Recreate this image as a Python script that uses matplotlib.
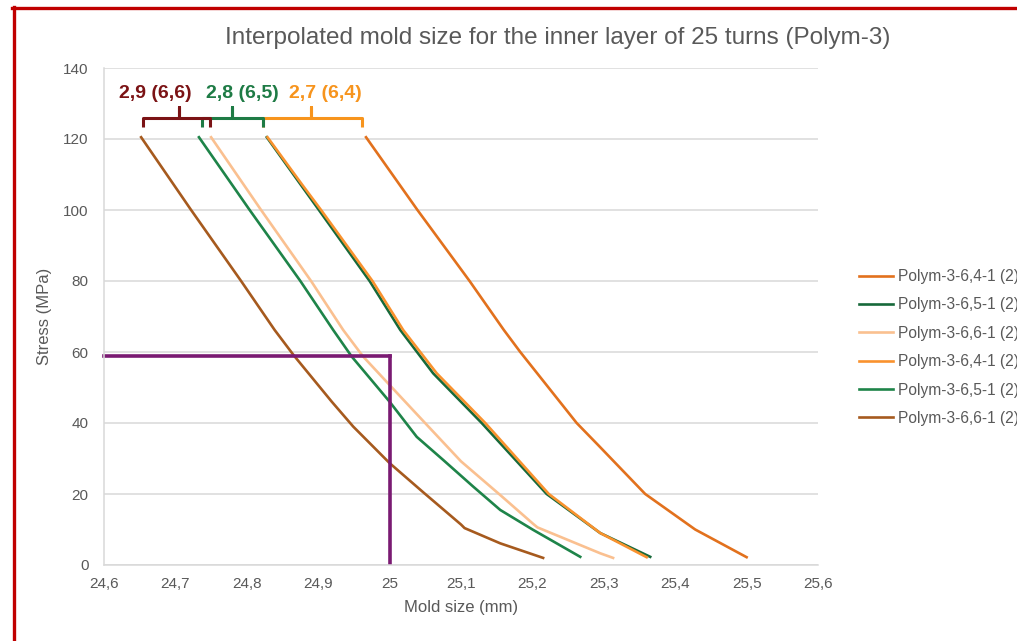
import matplotlib
matplotlib.use("Agg")
import matplotlib.pyplot as plt
from matplotlib.lines import Line2D

plt.rcParams['font.family'] = ['Liberation Sans', 'DejaVu Sans']

# ---------------- data ----------------
title = "Interpolated mold size for the inner layer of 25 turns (Polym-3)"
x_label = "Mold size (mm)"
y_label = "Stress (MPa)"
x_ticks = [24.6, 24.7, 24.8, 24.9, 25.0, 25.1, 25.2, 25.3, 25.4, 25.5, 25.6]
x_tick_labels = ["24,6", "24,7", "24,8", "24,9", "25", "25,1", "25,2", "25,3", "25,4", "25,5", "25,6"]
y_ticks = [0, 20, 40, 60, 80, 100, 120, 140]

series_names = ["Polym-3-6,4-1 (2)", "Polym-3-6,5-1 (2)", "Polym-3-6,6-1 (2)",
                "Polym-3-6,4-1 (2)", "Polym-3-6,5-1 (2)", "Polym-3-6,6-1 (2)"]

s64a_x = [24.967, 25.039, 25.112, 25.160, 25.183, 25.262, 25.292, 25.358, 25.428, 25.500]
s64a_y = [120.5, 100, 80, 66.2, 60, 40, 33.8, 20, 10, 2.2]

s65a_x = [24.828, 24.876, 24.901, 24.972, 25.015, 25.061, 25.129, 25.220, 25.295, 25.365]
s65a_y = [120.5, 107, 100, 80, 66.2, 54, 40, 20, 9, 2.3]

s66a_x = [24.750, 24.820, 24.890, 24.935, 24.963, 25.000, 25.052, 25.100, 25.155,
          25.201, 25.207, 25.295, 25.313]
s66a_y = [120.5, 100, 80, 66.2, 58.7, 50.7, 39.5, 29.2, 19.7, 11.6, 10.6, 3.3, 2.0]

s64b_x = [24.829, 24.878, 24.904, 24.976, 25.019, 25.066, 25.134, 25.223, 25.295, 25.360]
s64b_y = [120.5, 107, 100, 80, 66.2, 54, 40, 20, 9, 2.2]

s65b_x = [24.733, 24.804, 24.875, 24.921, 24.947, 25.000, 25.038, 25.075, 25.117,
          25.155, 25.201, 25.267]
s65b_y = [120.5, 100, 80, 66.2, 58.7, 46, 36.1, 29.6, 22.1, 15.5, 9.9, 2.3]

s66b_x = [24.652, 24.722, 24.792, 24.839, 24.866, 24.919, 24.949, 25.000, 25.047,
          25.100, 25.105, 25.155, 25.215]
s66b_y = [120.5, 100, 80, 66.2, 59, 46, 39, 28.7, 20.5, 11.4, 10.4, 6.1, 2.0]

target_size = 25.0
target_stress = 59.0

bracket_labels = ["2,9 (6,6)", "2,8 (6,5)", "2,7 (6,4)"]
bracket_left = [24.6546, 24.7368, 24.8222]
bracket_right = [24.7485, 24.8222, 24.9609]
bracket_mid = [24.705, 24.7797, 24.8895]
label_x = [24.6714, 24.7933, 24.9095]

# ---------------- styles ----------------
series_colors = ["#E2711D", "#17693A", "#FAC090", "#F9922E", "#1E8449", "#A65A1E"]
bracket_colors = ["#7B1315", "#1E7B45", "#F7941D"]
gray = "#595959"
grid = "#D9D9D9"

fig = plt.figure(figsize=(10.17, 6.41), dpi=100)
ax = fig.add_axes([104/1017, 1-565/641, (818-104)/1017, (565-68)/641])

xs = [s64a_x, s65a_x, s66a_x, s64b_x, s65b_x, s66b_x]
ys = [s64a_y, s65a_y, s66a_y, s64b_y, s65b_y, s66b_y]
for x, y, c, n in zip(xs, ys, series_colors, series_names):
    ax.plot(x, y, color=c, lw=1.9, label=n, solid_joinstyle='round')

# target lines
ax.plot([24.6, target_size], [target_stress, target_stress], color="#7A1A72", lw=2.6, clip_on=False)
ax.plot([target_size, target_size], [0, target_stress], color="#7A1A72", lw=2.6)

# brackets
yl, yb, yt = 126.0, 123.4, 129.0
for i in [2, 1, 0]:
    x0, x1, xm = bracket_left[i], bracket_right[i], bracket_mid[i]
    ax.plot([x0, x0, xm, xm, xm, x1, x1], [yb, yl, yl, yt, yl, yl, yb],
            color=bracket_colors[i], lw=2.2, solid_joinstyle='round',
            solid_capstyle='butt', clip_on=False)
for i in range(3):
    ax.text(label_x[i], 132.9, bracket_labels[i], color=bracket_colors[i],
            fontsize=14, fontweight='bold', ha='center', va='center')

ax.set_xlim(24.6, 25.6)
ax.set_ylim(0, 140)
ax.set_xticks(x_ticks)
ax.set_xticklabels(x_tick_labels)
ax.set_yticks(y_ticks)
ax.tick_params(axis='both', length=0, labelsize=11, colors=gray)
ax.tick_params(axis='x', pad=9)
ax.tick_params(axis='y', pad=11)
ax.yaxis.grid(True, color=grid, lw=1.1)
ax.set_axisbelow(True)
for s in ['top', 'right']:
    ax.spines[s].set_visible(False)
for s in ['left', 'bottom']:
    ax.spines[s].set_color(grid)
    ax.spines[s].set_linewidth(1.1)

ax.set_xlabel(x_label, fontsize=12, color=gray, labelpad=6)
ax.set_ylabel(y_label, fontsize=12, color=gray, labelpad=8)

fig.text(557.5/1017, 1-38/641, title, fontsize=17.5, color=gray, ha='center', va='center')

leg = ax.legend(loc='upper left', bbox_to_anchor=(859/1017, 1-269/641),
                bbox_transform=fig.transFigure, frameon=False, fontsize=11.2,
                handlelength=2.2, handletextpad=0.32, labelspacing=0.86,
                borderaxespad=0, borderpad=0)
for t in leg.get_texts():
    t.set_color(gray)

# red frame
fig.add_artist(Line2D([12/1017, 1.0], [1-7.5/641, 1-7.5/641], transform=fig.transFigure,
                      color="#C00000", lw=2.4))
fig.add_artist(Line2D([13.5/1017, 13.5/1017], [1-6.5/641, 0], transform=fig.transFigure,
                      color="#C00000", lw=2.4))

fig.savefig("out.png", dpi=100)
